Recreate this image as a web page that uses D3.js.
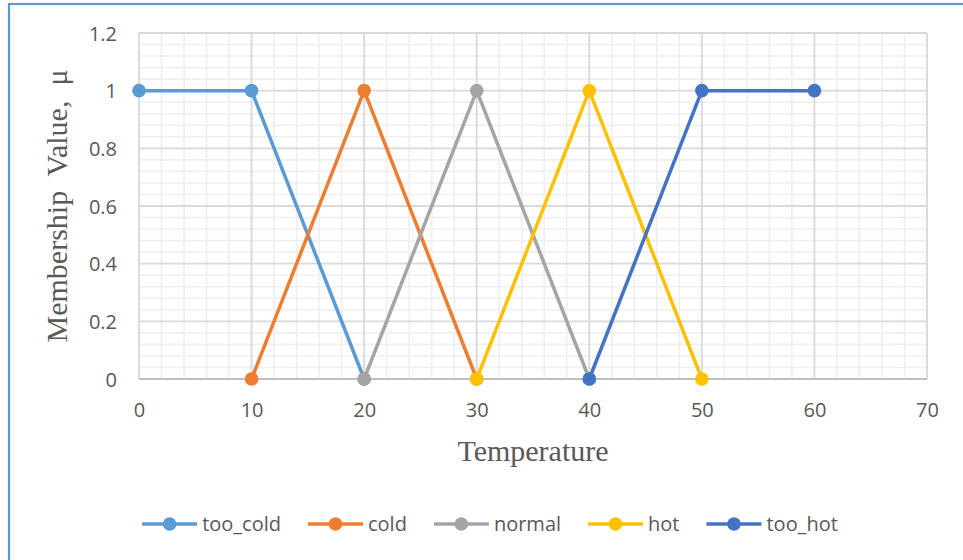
<!DOCTYPE html>
<html>
<head>
<meta charset="utf-8">
<script src="https://cdn.jsdelivr.net/npm/d3@7"></script>
<style>
  html, body { margin: 0; padding: 0; background: #fff; }
  svg { display: block; }
  text { white-space: pre; }
</style>
</head>
<body>
<svg id="chart" width="963" height="560"></svg>
<script>
// Membership functions of the temperature fuzzy sets
const seriesNames = ["too_cold", "cold", "normal", "hot", "too_hot"];
const seriesColors = ["#5b9bd5", "#ed7d31", "#a5a5a5", "#ffc000", "#4472c4"];
const tooColdX = [0, 10, 20];   const tooColdY = [1, 1, 0];
const coldX    = [10, 20, 30];  const coldY    = [0, 1, 0];
const normalX  = [20, 30, 40];  const normalY  = [0, 1, 0];
const hotX     = [30, 40, 50];  const hotY     = [0, 1, 0];
const tooHotX  = [40, 50, 60];  const tooHotY  = [0, 1, 1];
const xTicks = [0, 10, 20, 30, 40, 50, 60, 70];
const yTicks = [0, 0.2, 0.4, 0.6, 0.8, 1, 1.2];
const xTitle = "Temperature";
const yTitle = "Membership  Value,  μ";

const seriesX = [tooColdX, coldX, normalX, hotX, tooHotX];
const seriesY = [tooColdY, coldY, normalY, hotY, tooHotY];
const series = seriesNames.map((name, i) => ({
  name, color: seriesColors[i],
  points: seriesX[i].map((x, j) => ({ x, y: seriesY[i][j] }))
}));

const svg = d3.select("#chart");
const plot = { left: 139, right: 927, top: 33, bottom: 379 };

const x = d3.scaleLinear().domain([0, 70]).range([plot.left, plot.right]);
const y = d3.scaleLinear().domain([0, 1.2]).range([plot.bottom, plot.top]);

// Chart area frame
svg.append("rect")
  .attr("x", 9).attr("y", 4).attr("width", 980).attr("height", 600)
  .attr("fill", "#fff").attr("stroke", "#5b9bd5").attr("stroke-width", 2.2);

const g = svg.append("g");

// Minor gridlines
const xMinor = d3.range(0, 70.001, 2).filter(v => v % 10 !== 0);
const yMinor = d3.range(0, 1.2001, 0.04).map(v => +v.toFixed(2))
  .filter(v => Math.abs(v / 0.2 - Math.round(v / 0.2)) > 1e-6);
g.selectAll(".xminor").data(xMinor).join("line")
  .attr("x1", d => x(d)).attr("x2", d => x(d))
  .attr("y1", plot.top).attr("y2", plot.bottom)
  .attr("stroke", "#efefef").attr("stroke-width", 1.6);
g.selectAll(".yminor").data(yMinor).join("line")
  .attr("x1", plot.left).attr("x2", plot.right)
  .attr("y1", d => y(d)).attr("y2", d => y(d))
  .attr("stroke", "#efefef").attr("stroke-width", 1.6);

// Major gridlines
g.selectAll(".xmajor").data(xTicks).join("line")
  .attr("x1", d => x(d)).attr("x2", d => x(d))
  .attr("y1", plot.top).attr("y2", plot.bottom)
  .attr("stroke", "#d9d9d9").attr("stroke-width", 1.8);
g.selectAll(".ymajor").data(yTicks).join("line")
  .attr("x1", plot.left).attr("x2", plot.right)
  .attr("y1", d => y(d)).attr("y2", d => y(d))
  .attr("stroke", "#d9d9d9").attr("stroke-width", 1.8);

// Horizontal axis line
g.append("line")
  .attr("x1", plot.left).attr("x2", plot.right)
  .attr("y1", y(0)).attr("y2", y(0))
  .attr("stroke", "#bfbfbf").attr("stroke-width", 2);

// Axes (labels only)
const tickFont = "'Open Sans', sans-serif";
const xAxis = g.append("g")
  .attr("transform", `translate(0,${plot.bottom})`)
  .call(d3.axisBottom(x).tickValues(xTicks).tickSize(0).tickPadding(32).tickFormat(d3.format("d")));
const yAxis = g.append("g")
  .attr("transform", `translate(${plot.left},0)`)
  .call(d3.axisLeft(y).tickValues(yTicks).tickSize(0).tickPadding(22).tickFormat(d => String(+d.toFixed(1))));
[xAxis, yAxis].forEach(a => {
  a.select(".domain").remove();
  a.selectAll("text").attr("fill", "#595959")
    .style("font-family", tickFont).style("font-size", "20px");
});
xAxis.selectAll("text").attr("dy", "0").attr("y", 0).attr("transform", "translate(0,38)");
yAxis.selectAll("text").attr("dy", "0.36em");

// Series lines and markers
const line = d3.line().x(d => x(d.x)).y(d => y(d.y));
series.forEach(s => {
  const sg = g.append("g");
  sg.append("path").datum(s.points)
    .attr("d", line).attr("fill", "none")
    .attr("stroke", s.color).attr("stroke-width", 3.5)
    .attr("stroke-linejoin", "round");
  sg.selectAll("circle").data(s.points).join("circle")
    .attr("cx", d => x(d.x)).attr("cy", d => y(d.y)).attr("r", 6.8)
    .attr("fill", s.color);
});

// Axis titles
svg.append("text")
  .attr("x", 533).attr("y", 461)
  .attr("text-anchor", "middle")
  .attr("fill", "#595959")
  .style("font-family", "'Liberation Serif', 'Times New Roman', serif")
  .style("font-size", "30px")
  .text(xTitle);
svg.append("text")
  .attr("transform", "translate(67,206) rotate(-90)")
  .attr("text-anchor", "middle")
  .attr("fill", "#595959")
  .style("font-family", "'Liberation Serif', 'Times New Roman', serif")
  .style("font-size", "30px")
  .text(yTitle);

// Legend
const legend = svg.append("g");
const legendY = 524, lineLen = 55, textGap = 5, itemGap = 27;
const items = legend.selectAll("g").data(series).join("g");
items.append("line")
  .attr("x1", 0).attr("x2", lineLen).attr("y1", 0).attr("y2", 0)
  .attr("stroke", d => d.color).attr("stroke-width", 3.5);
items.append("circle")
  .attr("cx", lineLen / 2).attr("cy", 0).attr("r", 6.8)
  .attr("fill", d => d.color);
items.append("text")
  .attr("x", lineLen + textGap).attr("y", 0).attr("dy", "0.33em")
  .attr("fill", "#595959")
  .style("font-family", tickFont).style("font-size", "20px")
  .text(d => d.name);
let cursor = 0;
const offsets = [];
items.each(function () {
  offsets.push(cursor);
  const w = lineLen + textGap + d3.select(this).select("text").node().getComputedTextLength();
  cursor += w + itemGap;
});
const total = cursor - itemGap;
const startX = 490 - total / 2;
items.attr("transform", (d, i) => `translate(${startX + offsets[i]},${legendY})`);
</script>
</body>
</html>
